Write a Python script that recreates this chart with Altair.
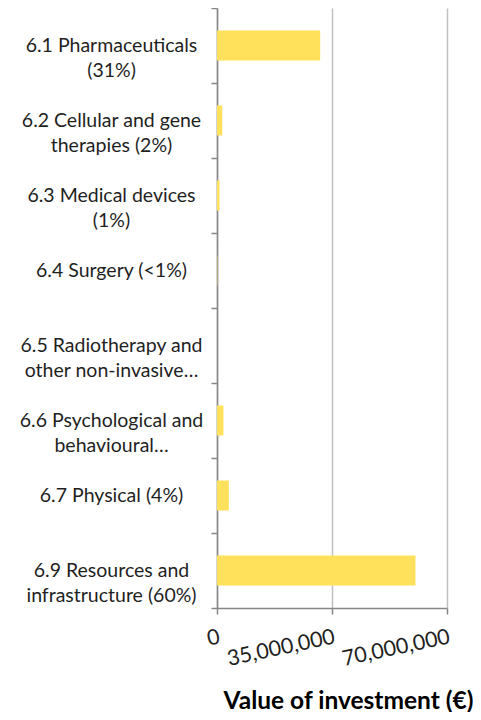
import altair as alt
import pandas as pd

categories = [
    "6.1 Pharmaceuticals|(31%)",
    "6.2 Cellular and gene|therapies (2%)",
    "6.3 Medical devices|(1%)",
    "6.4 Surgery (<1%)",
    "6.5 Radiotherapy and|other non-invasive…",
    "6.6 Psychological and|behavioural…",
    "6.7 Physical (4%)",
    "6.9 Resources and|infrastructure (60%)",
]
values = [31400000, 1600000, 760000, 100000, 0, 1950000, 3600000, 60400000]
x_ticks = [0, 35000000, 70000000]

df = pd.DataFrame({"category": categories, "value": values})

FONT = "Lato"

chart = (
    alt.Chart(df)
    .mark_bar(color="#FFE15B", size=30)
    .encode(
        x=alt.X(
            "value:Q",
            scale=alt.Scale(domain=[0, 70000000], nice=False),
            axis=alt.Axis(
                values=x_ticks,
                format=",d",
                title="Value of investment (€)",
                titleFont=FONT,
                titleFontSize=24.5,
                titleFontWeight="bold",
                titleColor="#000000",
                titleX=131,
                titleY=93,
                titleBaseline="middle",
                labelFont=FONT,
                labelFontSize=21.5,
                labelColor="#1f1f1f",
                labelAngle=348,
                labelAlign="right",
                labelBaseline="top",
                labelPadding=12,
                labelOverlap=False,
                labelFlush=False,
                grid=True,
                gridColor="#BFBFBF",
                gridWidth=1.5,
                domainColor="#868686",
                domainWidth=1.5,
                tickColor="#868686",
                tickWidth=1.5,
                tickSize=6,
            ),
        ),
        y=alt.Y(
            "category:N",
            sort=categories,
            scale=alt.Scale(paddingInner=0, paddingOuter=0),
            axis=alt.Axis(
                title=None,
                labelExpr="split(datum.label, '|')",
                labelFont=FONT,
                labelFontSize=19.5,
                labelLineHeight=25,
                labelColor="#1f1f1f",
                labelAlign="center",
                labelBaseline="middle",
                labelPadding=100,
                labelLimit=0,
                tickBand="extent",
                domainColor="#868686",
                domainWidth=1.5,
                tickColor="#868686",
                tickWidth=1.5,
                tickSize=6,
                grid=False,
            ),
        ),
    )
    .properties(
        width=230,
        height=600,
        padding={"left": 209, "top": 0, "right": 26, "bottom": 104},
        autosize=alt.AutoSizeParams(type="none"),
    )
    .configure_view(stroke=None)
)

chart.save("out.html", embed_options={"renderer": "svg", "actions": False})
